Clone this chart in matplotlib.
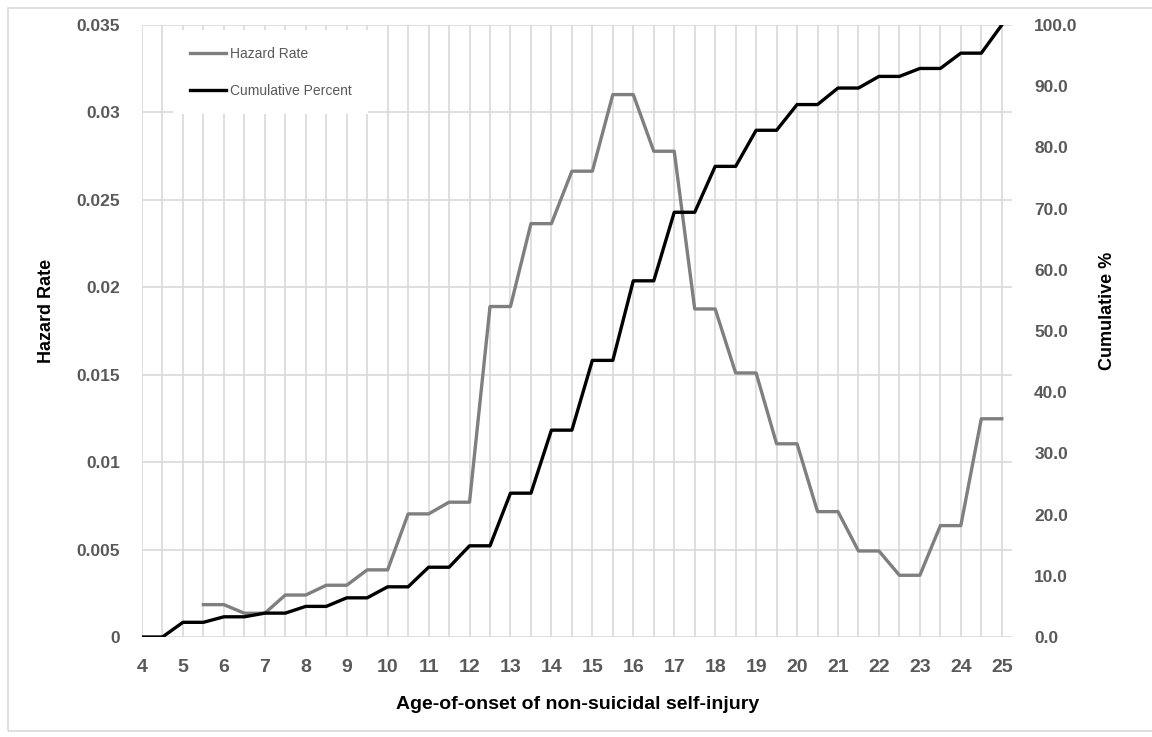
import numpy as np
import matplotlib
matplotlib.use("Agg")
import matplotlib.pyplot as plt
from matplotlib.patches import Rectangle
from matplotlib.ticker import MultipleLocator

plt.rcParams['font.family'] = ['Liberation Sans', 'DejaVu Sans']

# Data
ages = np.arange(4.0, 25.01, 0.5)
hazard_rate = [np.nan, np.nan, np.nan,
               0.00185, 0.00185, 0.00136, 0.00136, 0.0024, 0.0024,
               0.00296, 0.00296, 0.00384, 0.00384, 0.00704, 0.00704,
               0.00771, 0.00771, 0.0189, 0.0189, 0.02364, 0.02364,
               0.02664, 0.02664, 0.03102, 0.03102, 0.02778, 0.02778,
               0.01876, 0.01876, 0.0151, 0.0151, 0.01105, 0.01105,
               0.00717, 0.00717, 0.00492, 0.00492, 0.00353, 0.00353,
               0.00637, 0.00637, 0.01248, 0.01248]
cumulative_percent = [0.0, 0.0, 2.4, 2.4, 3.3, 3.3, 3.9, 3.9, 5.0, 5.0,
                      6.4, 6.4, 8.2, 8.2, 11.4, 11.4, 14.9, 14.9, 23.5, 23.5,
                      33.8, 33.8, 45.2, 45.2, 58.2, 58.2, 69.4, 69.4, 76.9, 76.9,
                      82.8, 82.8, 87.0, 87.0, 89.7, 89.7, 91.6, 91.6, 92.9, 92.9,
                      95.4, 95.4, 100.0]
hazard_ticks = [0, 0.005, 0.01, 0.015, 0.02, 0.025, 0.03, 0.035]
hazard_tick_labels = ['0', '0.005', '0.01', '0.015', '0.02', '0.025', '0.03', '0.035']
cum_ticks = [0, 10, 20, 30, 40, 50, 60, 70, 80, 90, 100]
cum_tick_labels = ['0.0', '10.0', '20.0', '30.0', '40.0', '50.0', '60.0', '70.0', '80.0', '90.0', '100.0']
x_ticks = list(range(4, 26))

W, H = 1152, 737
fig = plt.figure(figsize=(W / 100, H / 100), dpi=100)
L, R, T, B = 142, 1012, 25, 637
ax = fig.add_axes([L / W, 1 - B / H, (R - L) / W, (B - T) / H])
ax2 = ax.twinx()

# chart border
fig.patches.append(Rectangle((8 / W, 1 - 731 / H), 1.0, (731 - 8) / H,
                             transform=fig.transFigure, fill=False,
                             edgecolor='#d9d9d9', lw=1.2))

tick_color = '#595959'
grid_color = '#d9d9d9'

l1, = ax.plot(ages, hazard_rate, color='#7f7f7f', lw=2.4, label='Hazard Rate',
              solid_joinstyle='round')
l2, = ax2.plot(ages, cumulative_percent, color='black', lw=2.4, label='Cumulative Percent',
               solid_joinstyle='round')

ax.set_xlim(4, 25.25)
ax.set_ylim(0, 0.035)
ax2.set_ylim(0, 100)

ax.set_xticks(x_ticks)
ax.set_xticklabels([str(v) for v in x_ticks])
ax.xaxis.set_minor_locator(MultipleLocator(0.5))
ax.set_yticks(hazard_ticks)
ax.set_yticklabels(hazard_tick_labels)
ax2.set_yticks(cum_ticks)
ax2.set_yticklabels(cum_tick_labels)

ax.grid(True, which='both', axis='x', color=grid_color, lw=1.2)
ax.grid(True, which='major', axis='y', color=grid_color, lw=1.2)
ax.set_axisbelow(True)

for a in (ax, ax2):
    for s in a.spines.values():
        s.set_visible(False)
    a.tick_params(which='both', length=0, labelsize=12.5, labelcolor=tick_color)
ax.tick_params(axis='x', labelsize=14, pad=16)
for lab in ax.get_xticklabels() + ax.get_yticklabels() + ax2.get_yticklabels():
    lab.set_fontweight('bold')
ax.tick_params(axis='y', pad=16)
ax2.tick_params(axis='y', pad=16)

ax.set_xlabel('Age-of-onset of non-suicidal self-injury', fontsize=14, fontweight='bold', color='black')
ax.xaxis.set_label_coords(0.5006, -0.111)
ax.xaxis.label.set_va('center')
ax.set_ylabel('Hazard Rate', fontsize=13, fontweight='bold', color='black')
ax.yaxis.set_label_coords(-0.110, 0.533)
ax.yaxis.label.set_va('center')
ax2.set_ylabel('Cumulative %', fontsize=13, fontweight='bold', color='black')
ax2.yaxis.set_label_coords(1.110, 0.533)
ax2.yaxis.label.set_va('center')

leg = ax2.legend(handles=[l1, l2], loc='upper left',
                 bbox_to_anchor=(173 / W, 1 - 30 / H), bbox_transform=fig.transFigure,
                 borderaxespad=0, borderpad=1.2, fontsize=10, frameon=True,
                 facecolor='white', edgecolor='none', framealpha=1, fancybox=False,
                 handlelength=2.6, handletextpad=0.3, labelspacing=1.65)
for t in leg.get_texts():
    t.set_color(tick_color)

fig.savefig('out.png', dpi=100)
